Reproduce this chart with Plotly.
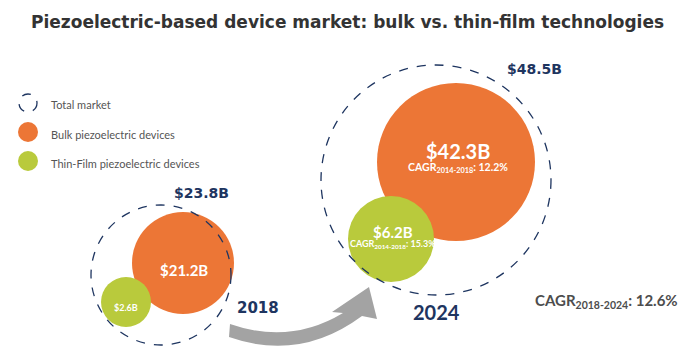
import plotly.graph_objects as go

# ---------------- data ----------------
years = ["2018", "2024"]
total_market = [23.8, 48.5]          # $B
bulk_devices = [21.2, 42.3]          # $B
thin_film_devices = [2.6, 6.2]       # $B
cagr_bulk = "12.2%"                  # CAGR 2014-2018 shown for 2024 bubble
cagr_thin = "15.3%"
cagr_total = "12.6%"                 # CAGR 2018-2024
legend_labels = ["Total market", "Bulk piezoelectric devices", "Thin-Film piezoelectric devices"]

# ---------------- layout / style (pixel space) ----------------
W, H = 700, 361
OFF = 8  # page body margin
ORANGE = "#EC7636"
GREEN = "#B9CA3C"
NAVY = "#1E3560"
GRAY_TXT = "#555555"
ARROW = "#A3A3A3"

# bubble geometry: centre x, centre y, radius (per year)
geom = {
    "total": [(161, 275, 70), (436, 180, 115)],
    "bulk": [(183, 263, 51), (456, 162, 79)],
    "thin": [(126, 302, 25), (391, 239, 43)],
}

fig = go.Figure()
fig.add_trace(go.Scatter(x=[OFF, W], y=[OFF, H], mode="markers",
                         marker=dict(opacity=0), hoverinfo="skip", showlegend=False))

shapes = []
annotations = []


def circle(cx, cy, r, fill=None, dash=False):
    d = dict(type="circle", xref="x", yref="y",
             x0=cx - r, x1=cx + r, y0=cy - r, y1=cy + r, layer="above")
    if dash:
        d.update(line=dict(color=NAVY, width=1.3, dash="dash"), fillcolor="rgba(0,0,0,0)")
    else:
        d.update(line=dict(width=0), fillcolor=fill)
    return d


def txt(x, y, s, size, color, family="Lato", bold=True, xanchor="center"):
    annotations.append(dict(x=x, y=y, xref="x", yref="y", text=(f"<b>{s}</b>" if bold else s),
                            showarrow=False, xanchor=xanchor, yanchor="middle",
                            font=dict(size=size, color=color, family=family)))


# arrow 2018 -> 2024
shapes.append(dict(type="path", xref="x", yref="y",
                   path="M 230 324 Q 290 345 343 313 L 332 312 L 369 287 L 377 319 L 362 316 Q 300 362 229 337 Z",
                   fillcolor=ARROW, line=dict(width=0), layer="below"))

for i, yr in enumerate(years):
    tx, ty, tr = geom["total"][i]
    bx, by, br = geom["bulk"][i]
    gx, gy, gr = geom["thin"][i]
    shapes.append(circle(bx, by, br, fill=ORANGE))
    shapes.append(circle(gx, gy, gr, fill=GREEN))
    shapes.append(circle(tx, ty, tr, dash=True))

# 2018 labels
txt(201, 193, f"${total_market[0]:.1f}B", 14, NAVY, family="DejaVu Sans")
txt(184, 270, f"${bulk_devices[0]:.1f}B", 15, "white")
txt(126, 307, f"${thin_film_devices[0]:.1f}B", 9, "white")
txt(258, 308, years[0], 15, NAVY, family="DejaVu Sans")

# 2024 labels
txt(534, 69, f"${total_market[1]:.1f}B", 14, NAVY, family="DejaVu Sans")
txt(458, 151, f"${bulk_devices[1]:.1f}B", 20, "white")
txt(458, 168, f"CAGR<sub>2014-2018</sub>: {cagr_bulk}", 10.5, "white")
txt(393, 232, f"${thin_film_devices[1]:.1f}B", 15, "white")
txt(393, 244, f"CAGR<sub>2014-2018</sub>: {cagr_thin}", 9, "white")
txt(436, 312, years[1], 20, NAVY)
txt(606, 301, f"CAGR<sub>2018-2024</sub>: {cagr_total}", 15, "#4d4d4d")

# legend
shapes.append(dict(type="circle", xref="x", yref="y", x0=19, x1=37, y0=94, y1=112,
                   line=dict(color=NAVY, width=1.3, dash="dash"), fillcolor="rgba(0,0,0,0)"))
shapes.append(circle(28, 132, 10, fill=ORANGE))
shapes.append(circle(28, 161, 10, fill=GREEN))
for lbl, ly in zip(legend_labels, [104, 134, 163]):
    txt(49, ly, lbl, 11, GRAY_TXT, bold=False, xanchor="left")

# title
annotations.append(dict(x=347, y=22, xref="x", yref="y",
                        text="<b>Piezoelectric-based device market: bulk vs. thin-film technologies</b>",
                        showarrow=False, xanchor="center", yanchor="middle",
                        font=dict(size=17, color="#333333", family="DejaVu Sans")))

fig.update_layout(
    width=W - OFF, height=H - OFF, autosize=False,
    margin=dict(l=0, r=0, t=0, b=0),
    paper_bgcolor="white", plot_bgcolor="white",
    xaxis=dict(range=[OFF, W], visible=False, fixedrange=True),
    yaxis=dict(range=[H, OFF], visible=False, fixedrange=True),
    shapes=shapes, annotations=annotations, showlegend=False,
)

fig.write_html("out.html")
